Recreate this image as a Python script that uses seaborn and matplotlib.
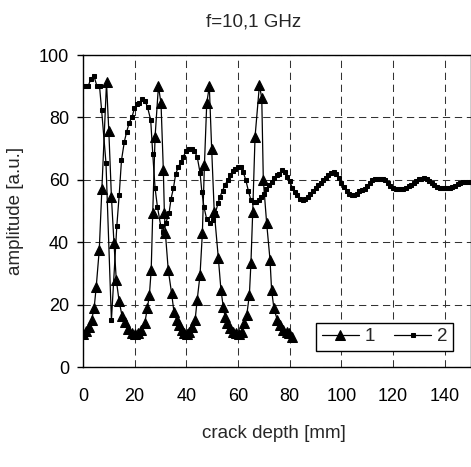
import numpy as np
import matplotlib
matplotlib.use("Agg")
import matplotlib.pyplot as plt
import seaborn as sns

# ---- data ----
s1_x = [0, 1.2, 2.2, 3.3, 4.3, 5.1, 6.3, 7.3, 9.1, 10.0, 11.0, 12.0, 12.9, 14.0, 15.1, 16.3,
        17.5, 18.8, 20.0, 21.3, 22.6, 23.9, 24.9, 25.7, 26.4, 27.0, 27.9, 29.2, 30.2, 31.1,
        31.5, 31.9, 33.0, 34.3, 35.2, 36.3, 37.3, 38.2, 39.2, 40.1, 41.0, 42.1, 43.4, 44.2,
        45.3, 46.2, 47.0, 47.9, 48.9, 49.8, 50.8, 52.4, 53.4, 54.3, 55.0, 55.9, 57.0, 58.0,
        59.2, 60.5, 61.4, 62.3, 63.4, 64.4, 65.0, 65.7, 66.6, 68.3, 69.2, 69.8, 71.1, 72.4,
        73.0, 73.9, 75.2, 76.3, 77.5, 78.8, 79.9, 80.8]
s1_y = [10.5, 11.5, 12.8, 15.0, 18.8, 25.5, 37.6, 57.0, 91.2, 75.5, 54.6, 39.6, 27.8, 21.0,
        16.5, 14.5, 12.2, 11.0, 10.5, 11.0, 12.0, 14.0, 18.8, 23.1, 31.1, 49.5, 73.8, 90.0,
        84.5, 63.1, 49.5, 42.8, 31.1, 23.6, 17.7, 15.1, 13.5, 11.9, 10.8, 10.6, 11.3, 12.9,
        15.1, 21.5, 29.5, 42.8, 64.7, 84.5, 90.0, 70.0, 49.8, 34.8, 24.7, 19.3, 16.1, 14.0,
        12.4, 11.3, 10.8, 10.6, 11.3, 14.0, 16.7, 23.1, 33.2, 49.8, 73.8, 90.4, 86.1, 59.9,
        46.0, 34.3, 24.7, 18.8, 15.1, 13.5, 11.9, 11.3, 10.8, 9.7]

s2_x = [0, 1, 2, 3, 4.2, 5.4, 6.4, 7.2, 8.9, 11.0, 13.1, 14.0, 14.9, 16.0, 16.9, 17.9, 19.0,
        19.9, 20.8, 21.8, 23.0, 24.0, 25.0, 26.2, 27.0, 27.9, 28.8, 30.1, 30.9, 32.0, 33.3,
        34.1, 35.0, 35.9, 36.9, 37.9, 38.8, 39.9, 40.9, 42.0, 43.1, 44.2, 45.3, 46.0, 46.8,
        47.9, 49.2, 50.2, 51.2, 52.4] + list(range(53, 151))
s2_y = [90, 90, 90, 92.3, 93.4, 90, 90, 82.4, 65.3, 15,
        45.3, 55, 66.3, 72.2, 75.4, 78.3, 80.2, 82.9, 84.2, 84.5,
        85.9, 85.4, 83.2, 79.2, 68.3, 57.3, 51.4, 45.2, 43.4, 46,
        49.3, 54, 57.3, 62, 64, 65.8, 67.4, 69.2, 70, 70,
        69.2, 67.4, 62.3, 56.2, 51.4, 47.3, 46.2, 47.1, 49.3, 52.7,
        # 53..150
        54.5, 56.5, 58.3, 60.0, 61.5, 62.8, 63.6, 64.2, 64.0, 62.5,
        60.0, 56.5, 53.5, 53.0, 53.0, 53.6, 54.4, 55.6, 57.0, 58.3,
        59.4, 60.5, 61.4, 62.0, 63.0, 62.5, 61.0, 59.5, 57.5, 56.0,
        55.0, 54.0, 53.6, 54.0, 54.6, 55.5, 56.5, 57.3, 58.2, 59.0,
        59.8, 60.7, 61.5, 62.3, 62.4, 62.0, 60.5, 59.0, 57.8, 56.5,
        55.6, 55.2, 55.1, 55.6, 56.5, 56.8, 57.2, 58.0, 59.0, 59.8,
        60.1, 60.2, 60.2, 60.1, 59.9, 59.0, 58.0, 57.5, 57.0, 56.9,
        57.0, 57.2, 57.5, 58.0, 58.3, 59.0, 59.6, 60.1, 60.4, 60.5,
        60.2, 59.6, 59.0, 58.3, 57.8, 57.4, 57.3, 57.3, 57.3, 57.4,
        57.6, 57.9, 58.5, 59.0, 59.2, 59.4, 59.4, 59.4]

x_ticks = [0, 20, 40, 60, 80, 100, 120, 140]
y_ticks = [0, 20, 40, 60, 80, 100]

# ---- style ----
sns.set_style("white")
plt.rcParams['font.family'] = ['Liberation Sans', 'DejaVu Sans']

fig = plt.figure(figsize=(4.71, 4.67), dpi=100)
ax = fig.add_axes([83 / 471, 1 - 367 / 467, 387.5 / 471, 312 / 467])

sns.lineplot(x=s1_x, y=s1_y, ax=ax, color="black", linewidth=0.9, marker="^",
             markersize=7, markeredgecolor="black", markerfacecolor="black",
             label="1", errorbar=None, sort=False)
sns.lineplot(x=s2_x, y=s2_y, ax=ax, color="black", linewidth=0.9, marker="s",
             markersize=2.6, markeredgecolor="black", markerfacecolor="black",
             label="2", errorbar=None, sort=False)

ax.set_xlim(0, 150)
ax.set_ylim(0, 100)
ax.set_xticks(x_ticks)
ax.set_yticks(y_ticks)
ax.grid(True, color="#333333", linestyle=(0, (7, 4.5)), linewidth=0.75)
ax.set_axisbelow(True)
for sp in ax.spines.values():
    sp.set_color("black")
    sp.set_linewidth(1.0)
    sp.set_visible(True)

ax.tick_params(axis="x", length=0, pad=15, labelsize=13, colors="black")
ax.tick_params(axis="y", length=4, direction="out", width=1, pad=6, labelsize=13, colors="black", left=True)

ax.set_xlabel("")
ax.set_ylabel("")
fig.text(274 / 471, 1 - 433 / 467, "crack depth [mm]", ha="center", va="center", fontsize=13.5)
fig.text(16 / 471, 1 - 211 / 467, "amplitude [a.u.]", ha="center", va="center",
         rotation=90, fontsize=13.5)
fig.text(254 / 471, 1 - 22 / 467, "f=10,1 GHz", ha="center", va="center", fontsize=13.5)

leg = ax.legend(ncol=2, loc="lower right", bbox_to_anchor=(0.955, 0.051),
                borderaxespad=0, frameon=True, fancybox=False, shadow=False,
                fontsize=13.5, handlelength=2.0, handletextpad=0.3, columnspacing=1.0,
                borderpad=0.3)
leg.get_frame().set_edgecolor("black")
leg.get_frame().set_linewidth(1.0)
leg.get_frame().set_alpha(1)

fig.savefig("out.png", dpi=100)
